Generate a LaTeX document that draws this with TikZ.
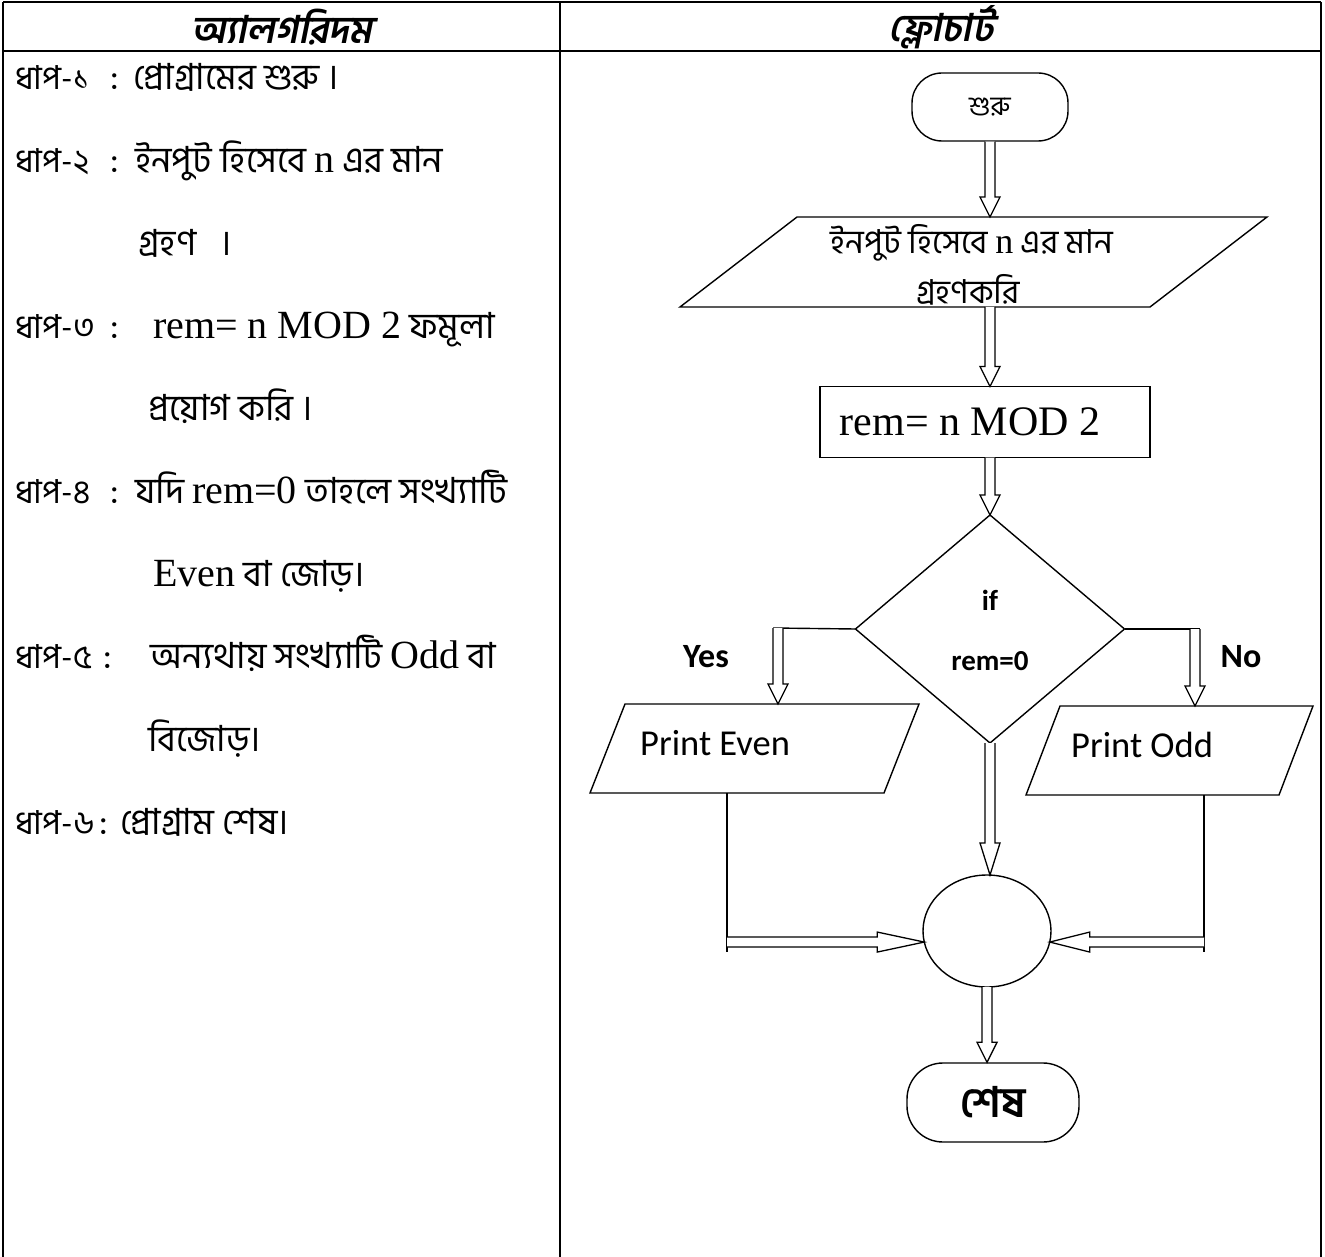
\documentclass[tikz,border=0pt]{standalone}
\usepackage{fontspec}
\setmainfont{Liberation Serif}
\newfontfamily\bn[Script=Bengali]{Hind Siliguri}
\newfontfamily\bnhead[Script=Bengali,FakeSlant=0.2]{Hind Siliguri}
\newfontfamily\calib{Carlito}
\usetikzlibrary{calc,shapes.geometric}
\newcommand{\lat}[2][40]{{\rmfamily\fontsize{#1}{#1}\selectfont #2}}
\tikzset{
  tbl/.style={line width=2.6pt},
  shp/.style={draw=black, line width=1.4pt},
  box/.style={inner sep=0pt, outer sep=0pt},
  blockarr/.style={draw=black, line width=1.3pt, fill=white, line join=miter},
  lbl/.style={anchor=base west, inner sep=0pt, font=\bn\fontsize{36}{40}\selectfont},
  steplbl/.style={anchor=base west, inner sep=0pt, font=\bn\fontsize{33}{40}\selectfont},
  term/.style={shp, rounded corners=30pt, inner sep=0pt},
  yn/.style={inner sep=0pt, font=\calib\bfseries\fontsize{34}{40}\selectfont},
  cond/.style={inner sep=0pt, font=\calib\bfseries\fontsize{29}{34}\selectfont},
  prt/.style={anchor=west, inner sep=0pt, font=\calib\fontsize{36.5}{40}\selectfont}
}
% vertical block arrow: x from #2, from y of #2 down to y of #3
\newcommand{\varr}[3][20pt]{%
  \draw[blockarr] let \p1=(#2), \p2=(#3) in
   (\x1-5pt,\y1) -- (\x1-5pt,\y2+#1) -- (\x1-10pt,\y2+#1) -- (\x1,\y2)
   -- (\x1+10pt,\y2+#1) -- (\x1+5pt,\y2+#1) -- (\x1+5pt,\y1);}
% right-pointing block arrow: from x of #2 to #3, at y of #3
\newcommand{\rarr}[3][40pt]{%
  \draw[blockarr] let \p1=(#2), \p2=(#3) in
   (\x1,\y2+5pt) -- (\x2-#1,\y2+5pt) -- (\x2-#1,\y2+10pt) -- (\x2,\y2)
   -- (\x2-#1,\y2-10pt) -- (\x2-#1,\y2-5pt) -- (\x1,\y2-5pt);}
% left-pointing block arrow
\newcommand{\larr}[3][40pt]{%
  \draw[blockarr] let \p1=(#2), \p2=(#3) in
   (\x1,\y2+5pt) -- (\x2+#1,\y2+5pt) -- (\x2+#1,\y2+10pt) -- (\x2,\y2)
   -- (\x2+#1,\y2-10pt) -- (\x2+#1,\y2-5pt) -- (\x1,\y2-5pt);}
\begin{document}
\begin{tikzpicture}[x=1pt,y=-1pt]
\useasboundingbox (0,0) rectangle (1325,1257);
% ---------- table ----------
\draw[tbl] (3,2) -- (1321,2);
\draw[tbl] (3,51) -- (1321,51);
\draw[tbl] (3,2) -- (3,1257);
\draw[tbl] (560,2) -- (560,1257);
\draw[tbl] (1321,2) -- (1321,1257);
\node[font=\bnhead\bfseries\fontsize{38}{42}\selectfont] (h1) at (282,27) {অ্যালগরিদম};
\node[font=\bnhead\bfseries\fontsize{38}{42}\selectfont] (h2) at (941,27) {ফ্লোচার্ট};
% ---------- algorithm ----------
\node[steplbl] (s1a) at (15,90) {ধাপ-১};
\node[lbl] (s1c) at (110,90) {:};
\node[lbl] (s1b) at (133,90) {প্রোগ্রামের শুরু ।};
\node[steplbl] (s2a) at (15,172.7) {ধাপ-২};
\node[lbl] (s2c) at (110,172.7) {:};
\node[lbl] (s2b) at (135,172.7) {ইনপুট হিসেবে \lat{n} এর মান};
\node[lbl] (s2d) at (138,255.4) {গ্রহণ ~ ।};
\node[steplbl] (s3a) at (15,338.1) {ধাপ-৩};
\node[lbl] (s3c) at (110,338.1) {:};
\node[lbl] (s3b) at (153,338.1) {\lat{rem= n MOD 2} ফমূলা};
\node[lbl] (s3d) at (148,420.8) {প্রয়োগ করি ।};
\node[steplbl] (s4a) at (15,503.5) {ধাপ-৪};
\node[lbl] (s4c) at (110,503.5) {:};
\node[lbl] (s4b) at (135,503.5) {যদি \lat{rem=0} তাহলে সংখ্যাটি};
\node[lbl] (s4d) at (153,586.2) {\lat{Even} বা জোড়।};
\node[steplbl] (s5a) at (15,668.9) {ধাপ-৫};
\node[lbl] (s5c) at (103,668.9) {:};
\node[lbl] (s5b) at (150,668.9) {অন্যথায় সংখ্যাটি \lat{Odd} বা};
\node[lbl] (s5d) at (148,751.6) {বিজোড়।};
\node[steplbl] (s6a) at (15,834.3) {ধাপ-৬};
\node[lbl] (s6c) at (99,834.3) {:};
\node[lbl] (s6b) at (120,834.3) {প্রোগ্রাম শেষ।};
% ---------- flowchart ----------
\node[term, minimum width=156pt, minimum height=68pt, font=\bn\fontsize{27}{30}\selectfont] (start) at (990,107) {শুরু};
\node[box, minimum width=587pt, minimum height=90pt] (inp) at (973.5,262) {};
\draw[shp] ([xshift=117pt]inp.north west) -- (inp.north east) -- ([xshift=-117pt]inp.south east) -- (inp.south west) -- cycle;
\node[inner sep=0pt, font=\bn\fontsize{33}{36}\selectfont] (inpt1) at (972,243) {ইনপুট হিসেবে \lat[36]{n} এর মান};
\node[inner sep=0pt, font=\bn\fontsize{33}{36}\selectfont] (inpt2) at (968,290) {গ্রহণকরি};
\node[shp, box, minimum width=330pt, minimum height=71pt] (rem) at (985,422) {};
\node[inner sep=0pt, font=\rmfamily\fontsize{42}{46}\selectfont] (remt) at (970,422) {rem= n MOD 2};
\node[box, minimum width=269pt, minimum height=228pt] (dec) at (990,629) {};
\draw[shp] (dec.north) -- (dec.east) -- (dec.south) -- (dec.west) -- cycle;
\node[cond] (if) at (990,600) {if};
\node[cond] (cnd) at (990,661) {rem=0};
\node[yn] (yes) at (706,657) {Yes};
\node[yn] (no) at (1241,657) {No};
\node[box, minimum width=329pt, minimum height=89pt] (pe) at (754.5,748.5) {};
\draw[shp] ([xshift=35pt]pe.north west) -- (pe.north east) -- ([xshift=-35pt]pe.south east) -- (pe.south west) -- cycle;
\node[prt] (pet) at (640,743) {Print Even};
\node[box, minimum width=287pt, minimum height=89pt] (po) at (1169.5,750.5) {};
\draw[shp] ([xshift=34pt]po.north west) -- (po.north east) -- ([xshift=-34pt]po.south east) -- (po.south west) -- cycle;
\node[prt] (pot) at (1071,745) {Print Odd};
\node[shp, ellipse, box, minimum width=128pt, minimum height=112pt] (circ) at (987,931) {};
\node[term, rounded corners=36pt, minimum width=172pt, minimum height=79pt, font=\bn\bfseries\fontsize{42}{46}\selectfont] (fin) at (993,1102.5) {শেষ};
% ---------- connectors ----------
\coordinate (yesl) at (773,628);
\coordinate (yesc) at (778,628);
\coordinate (nor) at (1200,629);
\coordinate (noc) at (1195,629);
\coordinate (evo) at (727,793);
\coordinate (eve) at (727,952);
\coordinate (odo) at (1204,795);
\coordinate (ode) at (1204,952);
\varr{start.south}{inp.north}
\varr{inp.south -| start.south}{rem.north}
\varr{rem.south -| start.south}{dec.north}
\draw[shp] (dec.west) -- (yesl);
\draw[shp] (dec.east) -- (nor);
\varr{yesc}{pe.north}
\varr{noc}{po.north}
\varr[32pt]{dec.south}{circ.north}
\draw[shp] (evo) -- (eve);
\draw[shp] (odo) -- (ode);
\rarr[47pt]{evo}{circ.190}
\larr[40pt]{odo}{circ.350}
\varr{circ.south}{fin.north}
\end{tikzpicture}
\end{document}
